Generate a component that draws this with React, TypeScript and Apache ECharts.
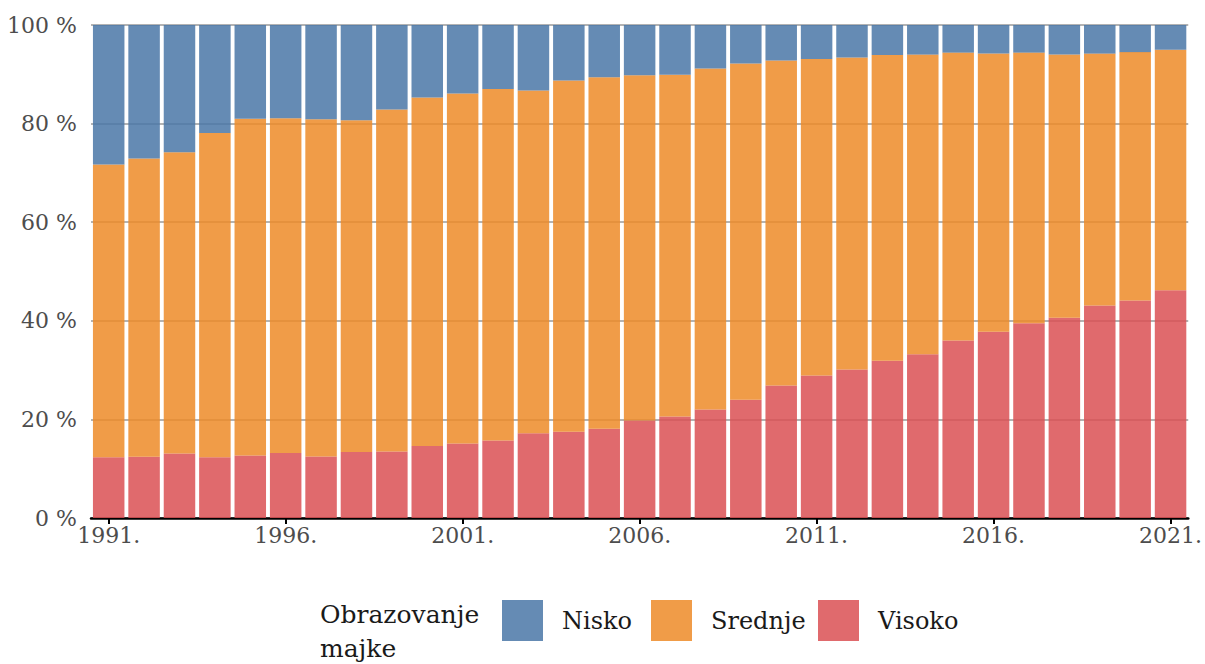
import React, { useEffect, useRef } from "react";
import * as echarts from "echarts";

const years = [
  "1991.", "1992.", "1993.", "1994.", "1995.", "1996.", "1997.", "1998.", "1999.", "2000.",
  "2001.", "2002.", "2003.", "2004.", "2005.", "2006.", "2007.", "2008.", "2009.", "2010.",
  "2011.", "2012.", "2013.", "2014.", "2015.", "2016.", "2017.", "2018.", "2019.", "2020.", "2021.",
];

// Share of Visoko (bottom) in %
const visoko = [
  12.3, 12.4, 13.1, 12.3, 12.7, 13.2, 12.5, 13.4, 13.5, 14.6,
  15.1, 15.7, 17.2, 17.5, 18.1, 19.8, 20.6, 22.0, 24.0, 26.9,
  28.9, 30.1, 31.9, 33.2, 36.0, 37.8, 39.5, 40.6, 43.1, 44.1, 46.2,
];

// Share of Srednje (middle) in %
const srednje = [
  59.4, 60.5, 61.1, 65.8, 68.3, 67.9, 68.4, 67.3, 69.35, 70.7,
  71.0, 71.3, 69.5, 71.25, 71.3, 70.0, 69.3, 69.2, 68.2, 65.9,
  64.2, 63.3, 62.0, 60.8, 58.4, 56.4, 54.9, 53.4, 51.1, 50.4, 48.8,
];

// Share of Nisko (top) in %
const nisko = [
  28.3, 27.1, 25.8, 21.9, 19.0, 18.9, 19.1, 19.3, 17.15, 14.7,
  13.9, 13.0, 13.3, 11.25, 10.6, 10.2, 10.1, 8.8, 7.8, 7.2,
  6.9, 6.6, 6.1, 6.0, 5.6, 5.8, 5.6, 6.0, 5.8, 5.5, 5.0,
];

const yTicks = [0, 20, 40, 60, 80, 100];
const legendTitle = "Obrazovanje\nmajke";
const seriesNames = ["Nisko", "Srednje", "Visoko"];
const legendLefts = [497, 646, 813];

const FONT = "DejaVu Serif";

export default function App() {
  const ref = useRef<HTMLDivElement>(null);

  useEffect(() => {
    if (!ref.current) return;
    const chart = echarts.init(ref.current, null, { renderer: "svg" });
    const barStyle = (color: string) => ({ color, opacity: 0.85 });
    chart.setOption({
      animation: false,
      backgroundColor: "#ffffff",
      textStyle: { fontFamily: FONT },
      grid: { left: 91, right: 14, top: 25, bottom: 146, containLabel: false },
      xAxis: {
        type: "category",
        data: years,
        axisLine: { show: true, lineStyle: { color: "#000", width: 2.5 } },
        axisTick: { show: true, interval: 4, alignWithLabel: true, length: 6, lineStyle: { color: "#000", width: 2 } },
        axisLabel: { interval: 4, fontFamily: FONT, fontSize: 22, color: "#4d4d4d", margin: 6 },
      },
      yAxis: {
        type: "value",
        min: yTicks[0],
        max: yTicks[yTicks.length - 1],
        interval: 20,
        axisLine: { show: false },
        axisTick: { show: false },
        axisLabel: {
          formatter: (v: number) => `${v} %`,
          fontFamily: FONT,
          fontSize: 22,
          color: "#4d4d4d",
          margin: 14,
        },
        splitLine: { show: true, lineStyle: { color: "#9a9a9a", width: 1.5 } },
      },
      legend: seriesNames.map((name, i) => ({
        data: [name],
        left: legendLefts[i],
        top: 595,
        orient: "horizontal",
        icon: "rect",
        itemWidth: 41,
        itemHeight: 41,
        textStyle: { fontFamily: FONT, fontSize: 24, color: "#1a1a1a", padding: [0, 0, 0, 14] },
      })),
      graphic: [
        {
          type: "text",
          left: 320,
          top: 597,
          style: {
            text: legendTitle,
            fontFamily: FONT,
            fontSize: 25,
            lineHeight: 34,
            fill: "#1a1a1a",
          },
        },
      ],
      series: [
        {
          name: "Visoko",
          type: "bar",
          stack: "total",
          data: visoko,
          barWidth: "89%",
          itemStyle: barStyle("#DB5053"),
        },
        {
          name: "Srednje",
          type: "bar",
          stack: "total",
          data: srednje,
          barWidth: "89%",
          itemStyle: barStyle("#ED8B28"),
        },
        {
          name: "Nisko",
          type: "bar",
          stack: "total",
          data: nisko,
          barWidth: "89%",
          itemStyle: barStyle("#4A77A7"),
        },
      ],
    });
    return () => chart.dispose();
  }, []);

  return (
    <div
      ref={ref}
      style={{ position: "absolute", left: 0, top: 0, width: 1205, height: 664 }}
    />
  );
}
